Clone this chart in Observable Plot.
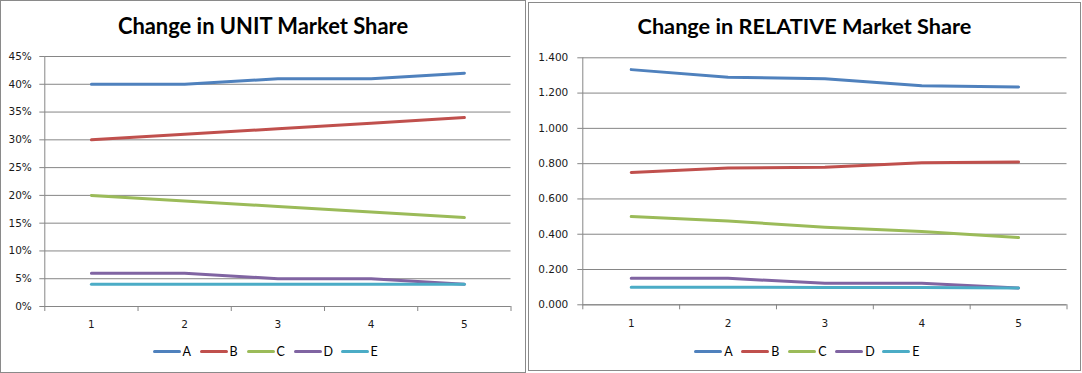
<!DOCTYPE html>
<html>
<head>
<meta charset="utf-8">
<script src="https://cdn.jsdelivr.net/npm/d3@7"></script>
<script src="https://cdn.jsdelivr.net/npm/@observablehq/plot@0.6"></script>
<style>
  html, body { margin: 0; padding: 0; background: #fff; }
  body { width: 1082px; height: 373px; position: relative; overflow: hidden; }
  .panel { position: absolute; box-sizing: border-box; border: 1px solid #8a8a8a; background: #fff; }
  .panel svg { position: absolute; left: 0; top: 0; }
  .panel svg text { font-family: "DejaVu Sans", sans-serif !important; font-size: 10.5px !important; fill: #1a1a1a; }
  .title { position: absolute; left: 0; width: 100%; text-align: center; font-family: Lato, "Open Sans", sans-serif; font-weight: 700; color: #000; white-space: nowrap; }
  .legend { position: absolute; display: flex; align-items: center; height: 14px; font-family: Lato, sans-serif; font-size: 12.5px; color: #000; }
  .legend .item { display: flex; align-items: center; margin-right: 9px; }
  .legend .swatch { width: 28px; height: 3px; border-radius: 1.5px; margin-right: 2px; }
</style>
</head>
<body>
<div id="left" class="panel" style="left:0px; top:0px; width:526px; height:373px;"></div>
<div id="right" class="panel" style="left:528px; top:2px; width:553px; height:369px;"></div>
<script>
// ---- data ----
const periods = [1, 2, 3, 4, 5];
const seriesNames = ["A", "B", "C", "D", "E"];
const seriesColors = ["#4F81BD", "#C0504D", "#9BBB59", "#8064A2", "#4BACC6"];

// Unit market share (fraction)
const unitA = [0.40, 0.40, 0.41, 0.41, 0.42];
const unitB = [0.30, 0.31, 0.32, 0.33, 0.34];
const unitC = [0.20, 0.19, 0.18, 0.17, 0.16];
const unitD = [0.06, 0.06, 0.05, 0.05, 0.04];
const unitE = [0.04, 0.04, 0.04, 0.04, 0.04];

// Relative market share
const relA = [1.333, 1.290, 1.281, 1.242, 1.235];
const relB = [0.750, 0.775, 0.780, 0.805, 0.810];
const relC = [0.500, 0.475, 0.439, 0.415, 0.381];
const relD = [0.150, 0.150, 0.122, 0.122, 0.095];
const relE = [0.100, 0.100, 0.098, 0.098, 0.095];

const unitTicks = [0, 0.05, 0.10, 0.15, 0.20, 0.25, 0.30, 0.35, 0.40, 0.45];
const relTicks = [0, 0.2, 0.4, 0.6, 0.8, 1.0, 1.2, 1.4];
const categoryBoundaries = [0.5, 1.5, 2.5, 3.5, 4.5, 5.5];

const unitTitle = "Change in UNIT Market Share";
const relTitle = "Change in RELATIVE Market Share";

function toRows(arrays) {
  const rows = [];
  seriesNames.forEach((s, i) => {
    periods.forEach((p, j) => rows.push({ series: s, period: p, value: arrays[i][j] }));
  });
  return rows;
}

const GRID = "#868686";

function makeChart(cfg) {
  return Plot.plot({
    width: cfg.width,
    height: cfg.height,
    marginLeft: cfg.ml,
    marginRight: cfg.mr,
    marginTop: cfg.mt,
    marginBottom: cfg.mb,
    style: { background: "transparent", color: "#1a1a1a" },
    x: { domain: [0.5, 5.5] },
    y: { domain: [0, cfg.ymax] },
    color: { domain: seriesNames, range: seriesColors },
    marks: [
      Plot.gridY(cfg.ticks, { stroke: GRID, strokeOpacity: 1, strokeWidth: 1 }),
      Plot.ruleX([0.5], { stroke: GRID, strokeWidth: 1 }),
      Plot.ruleY([0], { stroke: GRID, strokeWidth: 1 }),
      Plot.axisY(cfg.ticks, { tickFormat: cfg.format, tickSize: 5, tickPadding: cfg.yPad, stroke: GRID, label: null }),
      Plot.axisX(categoryBoundaries, { tickFormat: () => "", tickSize: 5, stroke: GRID, label: null }),
      Plot.axisX(periods, { tickFormat: d => String(d), tickSize: 0, tickPadding: cfg.xPad, label: null }),
      Plot.line(cfg.rows, { x: "period", y: "value", z: "series", stroke: "series", strokeWidth: 3, strokeLinecap: "round" })
    ]
  });
}

function fitFont(text, targetWidth) {
  const c = document.createElement("canvas").getContext("2d");
  c.font = "700 100px Lato";
  const w = c.measureText(text).width;
  return 100 * targetWidth / w;
}

function addTitle(panel, text, targetWidth, baselineTop) {
  const fs = fitFont(text, targetWidth);
  const d = document.createElement("div");
  d.className = "title";
  d.textContent = text;
  d.style.fontSize = fs + "px";
  d.style.lineHeight = "1";
  d.style.top = (baselineTop - 0.84 * fs) + "px";
  panel.appendChild(d);
}

function addLegend(panel, left, centerY) {
  const lg = document.createElement("div");
  lg.className = "legend";
  lg.style.left = left + "px";
  lg.style.top = (centerY - 7) + "px";
  seriesNames.forEach((s, i) => {
    const it = document.createElement("div");
    it.className = "item";
    const sw = document.createElement("span");
    sw.className = "swatch";
    sw.style.background = seriesColors[i];
    const tx = document.createElement("span");
    tx.textContent = s;
    tx.style.display = "inline-block";
    tx.style.width = "8px";
    it.appendChild(sw); it.appendChild(tx);
    lg.appendChild(it);
  });
  panel.appendChild(lg);
}

// Left chart
const leftPanel = document.getElementById("left");
leftPanel.appendChild(makeChart({
  width: 524, height: 371, ml: 43.3, mr: 14.5, mt: 55, mb: 66,
  ymax: 0.45, ticks: unitTicks, format: d3.format(".0%"), yPad: 8, xPad: 14,
  rows: toRows([unitA, unitB, unitC, unitD, unitE])
}));
addTitle(leftPanel, unitTitle, 291, 32.5);
addLegend(leftPanel, 151.5, 350.7);

// Right chart
const rightPanel = document.getElementById("right");
rightPanel.appendChild(makeChart({
  width: 551, height: 367, ml: 53.3, mr: 13.5, mt: 54.3, mb: 65.7,
  ymax: 1.4, ticks: relTicks, format: d3.format(".3f"), yPad: 9.5, xPad: 14.5,
  rows: toRows([relA, relB, relC, relD, relE])
}));
addTitle(rightPanel, relTitle, 334, 31.5);
addLegend(rightPanel, 165.3, 348);
</script>
</body>
</html>
